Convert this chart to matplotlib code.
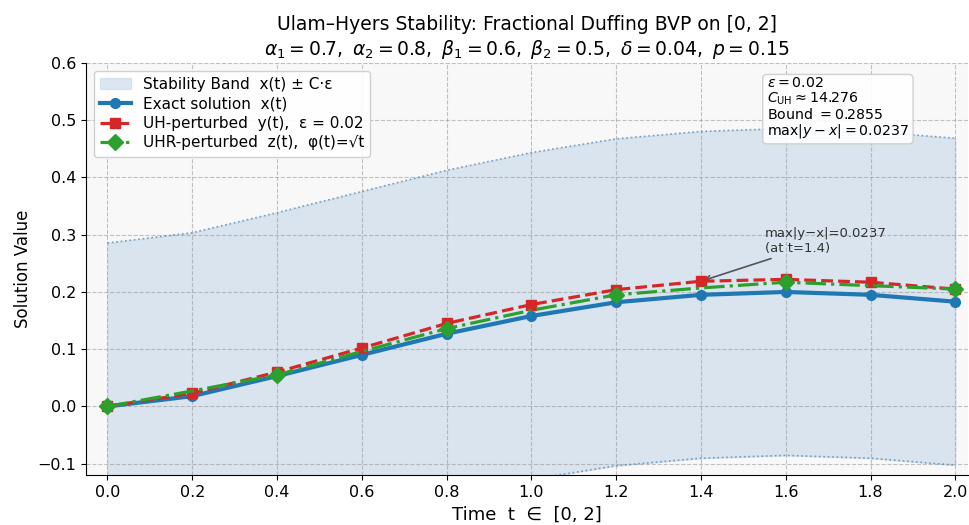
import numpy as np
import matplotlib
matplotlib.use('Agg')
import matplotlib.pyplot as plt

# values
t = [0.0, 0.2, 0.4, 0.6, 0.8, 1.0, 1.2, 1.4, 1.6, 1.8, 2.0]
x_exact = [0.000, 0.018, 0.053, 0.090, 0.127, 0.158, 0.182, 0.195, 0.200, 0.195, 0.183]
y_uh = [0.000, 0.023, 0.060, 0.102, 0.145, 0.178, 0.204, 0.2187, 0.222, 0.217, 0.205]
z_uhr = [0.000, 0.027, 0.055, 0.096, 0.136, 0.168, 0.195, 0.207, 0.217, 0.211, 0.205]

eps = 0.02
C_uh = 14.276
bound = 0.2855
max_err = 0.0237
t_max_err = 1.4

x_arr = np.array(x_exact)
upper = x_arr + bound
lower = x_arr - bound

fig, ax = plt.subplots(figsize=(9.69, 5.25), dpi=100)
fig.subplots_adjust(left=0.089, right=0.999, top=0.88, bottom=0.095)
ax.set_facecolor('#f8f8f8')

# stability band
ax.fill_between(t, lower, upper, color='#c6d7e8', alpha=0.6,
                label='Stability Band  x(t) ± C·ε')
ax.plot(t, upper, color='#5b8db8', linestyle=':', linewidth=1.2, alpha=0.8)
ax.plot(t, lower, color='#5b8db8', linestyle=':', linewidth=1.2, alpha=0.8)

ax.plot(t, x_exact, color='#1f77b4', linewidth=3, marker='o', markersize=7,
        label='Exact solution  x(t)', zorder=4)
ax.plot(t, y_uh, color='#d62728', linewidth=2.3, linestyle='--', marker='s',
        markersize=7, label=f'UH-perturbed  y(t),  ε = {eps}', zorder=5)
ax.plot(t, z_uhr, color='#2ca02c', linewidth=2.3, linestyle='-.', marker='D',
        markersize=8, markevery=2, label='UHR-perturbed  z(t),  φ(t)=√t', zorder=6)

i = t.index(t_max_err)
ax.annotate(f'max|y−x|={max_err}\n(at t={t_max_err})',
            xy=(t_max_err, y_uh[i]), xytext=(1.55, 0.27),
            fontsize=9.5, color='#333333',
            arrowprops=dict(arrowstyle='->', color='#555555', lw=1.2))

info = (f'$\\varepsilon = {eps}$\n'
        f'$C_{{\\rm UH}} \\approx {C_uh}$\n'
        f'Bound $= {bound}$\n'
        f'$\\max|y - x| = {max_err}$')
ax.text(0.772, 0.968, info, transform=ax.transAxes, fontsize=10.2,
        va='top', ha='left', linespacing=1.0,
        bbox=dict(boxstyle='round,pad=0.3', facecolor='white',
                  edgecolor='#cccccc', alpha=0.9))

ax.set_xlim(-0.05, 2.03)
ax.set_ylim(-0.12, 0.6)
ax.set_xticks(t)
ax.set_yticks(np.arange(-0.1, 0.61, 0.1))
ax.tick_params(labelsize=11.5)
ax.grid(True, linestyle='--', color='#999999', alpha=0.6)
ax.spines['top'].set_visible(False)
ax.spines['right'].set_visible(False)

ax.set_xlabel('Time  t  ∈  [0, 2]', fontsize=13)
ax.set_ylabel('Solution Value', fontsize=12)
ax.set_title('Ulam–Hyers Stability: Fractional Duffing BVP on [0, 2]\n'
             r'$\alpha_1 = 0.7,\ \alpha_2 = 0.8,\ \beta_1 = 0.6,\ \beta_2 = 0.5,\ \delta = 0.04,\ p = 0.15$',
             fontsize=13.5)
ax.legend(loc='upper left', fontsize=11, labelspacing=0.3, framealpha=0.9)

fig.savefig('out.png', dpi=100)
